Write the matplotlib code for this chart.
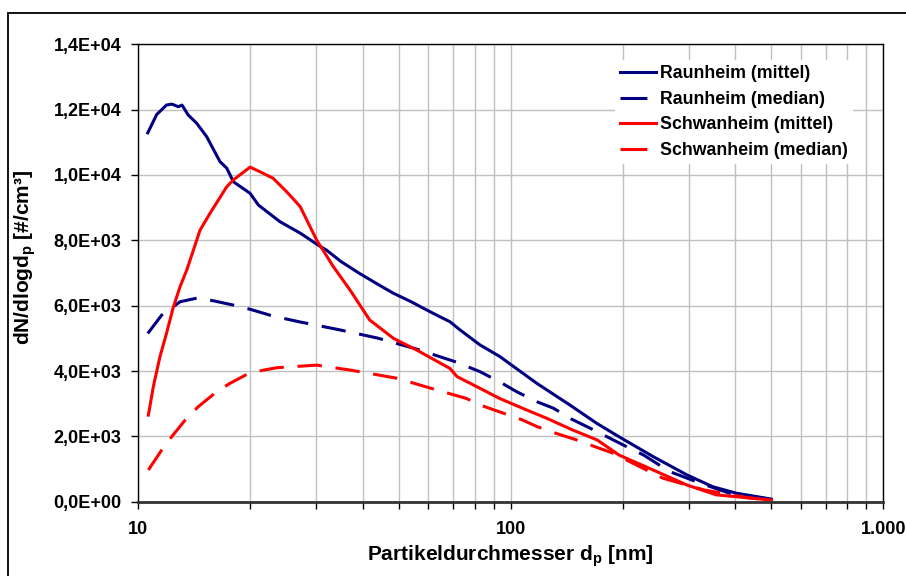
import matplotlib
matplotlib.use('Agg')

import matplotlib.pyplot as plt
from matplotlib.patches import Rectangle
from matplotlib.lines import Line2D
from matplotlib.ticker import FixedLocator, NullFormatter

plt.rcParams['font.family'] = ['Liberation Sans', 'DejaVu Sans']
plt.rcParams['font.weight'] = 'bold'
plt.rcParams['mathtext.fontset'] = 'custom'
plt.rcParams['mathtext.rm'] = 'Liberation Sans:bold'
plt.rcParams['mathtext.bf'] = 'Liberation Sans:bold'

# Raunheim (mittel)
rau_mit_x = [10.6, 11.2, 11.9, 12.3, 12.8, 13.1, 13.6, 14.35, 15.26, 16.56, 17.27, 18.0,
             19.95, 21.0, 24.0, 27.2, 30.8, 32.0, 35.0, 39.2, 44.0, 48.4, 54.0, 59.4,
             64.0, 68.6, 73.0, 82.6, 93.5, 100.5, 117.5, 144, 170, 195, 209, 241, 297,
             348, 403, 500]
rau_mit_y = [11290, 11850, 12140, 12170, 12090, 12140, 11840, 11580, 11170, 10410, 10210,
             9790, 9440, 9080, 8570, 8220, 7810, 7700, 7350, 6990, 6650, 6380, 6120, 5870,
             5680, 5510, 5260, 4800, 4440, 4180, 3620, 2960, 2400, 1990, 1790, 1380, 820,
             460, 260, 80]

# Raunheim (median)
rau_med_x = [10.6, 11.55, 12.94, 14.35, 15.9, 17.95, 19.95, 23.0, 27.2, 34.7, 43.8, 55.9,
             71.5, 82.6, 93.3, 103.5, 117.5, 130.2, 144.2, 163.2, 181, 200, 227, 267, 324,
             386, 500]
rau_med_y = [5150, 5710, 6120, 6230, 6150, 6020, 5890, 5680, 5500, 5260, 5010, 4670, 4270,
             3980, 3670, 3370, 3060, 2860, 2550, 2250, 1990, 1740, 1430, 920, 560, 260, 70]

# Schwanheim (mittel)
sch_mit_x = [10.64, 10.97, 11.43, 11.9, 12.41, 12.94, 13.49, 14.64, 15.58, 17.27, 17.99,
             19.95, 21.2, 23.0, 25.0, 27.2, 30.1, 33.4, 37.0, 41.8, 48.4, 55.9, 68.6, 71.7,
             82.6, 93.3, 107.5, 125, 146.8, 170.5, 195, 241, 297, 356, 500]
sch_mit_y = [2650, 3520, 4440, 5150, 5950, 6580, 7090, 8310, 8830, 9640, 9850, 10240, 10100,
             9900, 9490, 9030, 8010, 7190, 6480, 5560, 5000, 4640, 4080, 3830, 3470, 3160,
             2860, 2550, 2190, 1890, 1430, 970, 510, 210, 50]

# Schwanheim (median)
sch_med_x = [10.64, 11.55, 12.29, 13.47, 14.49, 16.24, 17.6, 19.95, 23.5, 30.1, 37.0, 49.4,
             63.2, 76, 82.6, 93.3, 107.5, 117.5, 132.4, 150.3, 168.5, 188.7, 209, 256, 330,
             429, 500]
sch_med_y = [970, 1580, 1990, 2550, 2910, 3370, 3620, 3950, 4100, 4180, 4030, 3780, 3420,
             3160, 2960, 2750, 2500, 2300, 2090, 1890, 1680, 1480, 1220, 720, 360, 130, 40]

series_labels = ['Raunheim (mittel)', 'Raunheim (median)', 'Schwanheim (mittel)', 'Schwanheim (median)']

y_ticks = [0, 2000, 4000, 6000, 8000, 10000, 12000, 14000]
y_labels = ['0,0E+00', '2,0E+03', '4,0E+03', '6,0E+03', '8,0E+03', '1,0E+04', '1,2E+04', '1,4E+04']
x_ticks = [10, 100, 1000]
x_labels = ['10', '100', '1.000']

navy = '#000080'
red = '#FF0000'

fig = plt.figure(figsize=(9.06, 5.76), dpi=100)
ax = fig.add_axes([0.1527, 0.129, 0.8223, 0.7941])

# Rahmen um die ganze Grafik
fig.patches.append(Rectangle((0.0092, -0.05), 1.1, 0.978 + 0.05, transform=fig.transFigure,
                             fill=False, edgecolor='black', linewidth=1.3, zorder=0))

lw = 2.2
dash = (0, (8, 4.5))
ax.plot(rau_mit_x, rau_mit_y, color=navy, linewidth=lw)
ax.plot(rau_med_x, rau_med_y, color=navy, linewidth=lw, linestyle=dash)
ax.plot(sch_mit_x, sch_mit_y, color=red, linewidth=lw)
ax.plot(sch_med_x, sch_med_y, color=red, linewidth=lw, linestyle=dash)

ax.set_xscale('log')
ax.set_xlim(10, 1000)
ax.set_ylim(0, 14000)

ax.xaxis.set_major_locator(FixedLocator(x_ticks))
ax.set_xticklabels(x_labels)
minor = [m * d for d in (10, 100) for m in range(2, 10)]
ax.xaxis.set_minor_locator(FixedLocator(minor))
ax.xaxis.set_minor_formatter(NullFormatter())
ax.set_yticks(y_ticks)
ax.set_yticklabels(y_labels)

ax.tick_params(axis='both', which='both', direction='out', length=5, width=1, labelsize=13)
ax.tick_params(axis='y', pad=7)
ax.tick_params(axis='x', pad=9)

# Gitter
ax.grid(True, which='both', axis='x', color='#c0c0c0', linewidth=1)
ax.grid(True, which='major', axis='y', color='#c0c0c0', linewidth=1)
ax.set_axisbelow(True)

for s in ax.spines.values():
    s.set_linewidth(1)
    s.set_color('black')
ax.spines['bottom'].set_linewidth(2)
ax.spines['bottom'].set_color('#333333')

ax.set_xlabel('Partikeldurchmesser d$_\\mathrm{p}$ [nm]', fontsize=15, fontweight='bold')
ax.set_ylabel('dN/dlogd$_\\mathrm{p}$ [#/cm³]', fontsize=15, fontweight='bold')
ax.yaxis.set_label_coords(-0.135, 0.535)
ax.xaxis.set_label_coords(0.5, -0.09)

# Legende: gestrichelte Linien nur mit einem kurzen Strich
leg_dash = (0, (8.8, 12))
handles = [Line2D([], [], color=navy, linewidth=lw),
           Line2D([], [], color=navy, linewidth=lw, linestyle=leg_dash),
           Line2D([], [], color=red, linewidth=lw),
           Line2D([], [], color=red, linewidth=lw, linestyle=leg_dash)]
leg = ax.legend(handles, series_labels, loc='upper left', bbox_to_anchor=(0.628, 0.985),
                frameon=True, fancybox=False, edgecolor='none', facecolor='white',
                framealpha=1, fontsize=12.8, handlelength=2.0, handletextpad=0.2,
                labelspacing=0.48, borderpad=0.3)

plt.savefig('out.png', dpi=100)
plt.close(fig)
